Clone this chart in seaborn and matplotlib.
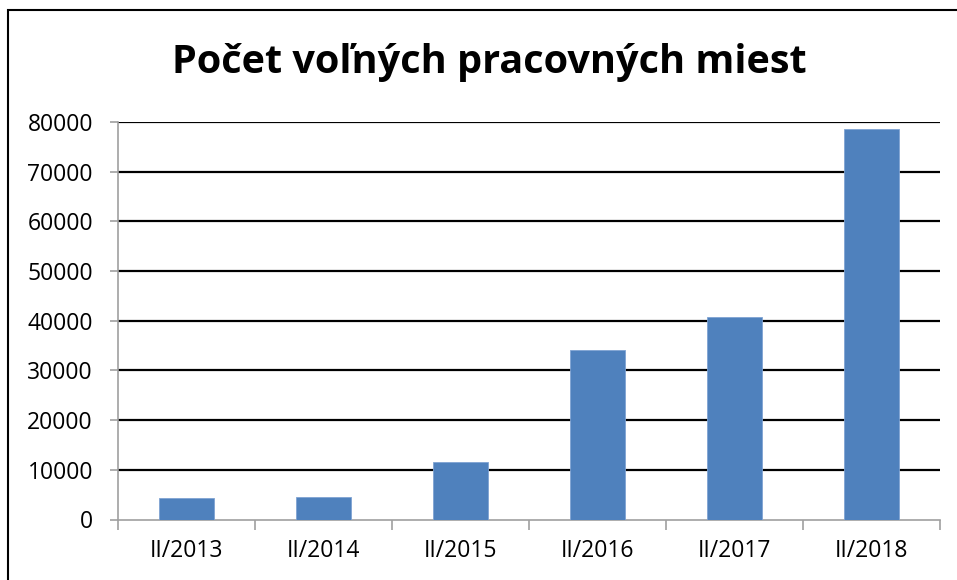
import matplotlib.pyplot as plt
import matplotlib.patches as mpatches
import seaborn as sns
import numpy as np

# data
obdobia = ["II/2013", "II/2014", "II/2015", "II/2016", "II/2017", "II/2018"]
miesta = [4300, 4500, 11600, 34100, 40700, 78500]
y_ticks = [0, 10000, 20000, 30000, 40000, 50000, 60000, 70000, 80000]

sns.set_style("white")
plt.rcParams['font.family'] = ['Open Sans', 'DejaVu Sans']
plt.rcParams['text.color'] = 'black'
plt.rcParams['xtick.labelcolor'] = 'black'
plt.rcParams['ytick.labelcolor'] = 'black'

W, H = 957, 580
fig = plt.figure(figsize=(W / 100, H / 100), dpi=100)
ax = fig.add_axes([118 / W, 1 - 519.5 / H, (940 - 118) / W, (519.5 - 122) / H])

sns.barplot(x=obdobia, y=miesta, color="#4F81BD", saturation=1, width=0.4,
            edgecolor="#7FA3D3", linewidth=0.6, ax=ax, zorder=3)

ax.set_ylim(0, 80000)
ax.set_xlim(-0.5, len(obdobia) - 0.5)
ax.set_yticks(y_ticks)
ax.set_yticklabels([str(t) for t in y_ticks], fontsize=16.5)
ax.tick_params(axis='y', length=6, width=1.2, color='#A0A0A0', pad=12, direction='out', left=True,
               labelcolor='black')
ax.tick_params(axis='x', which='major', length=0, pad=14, labelsize=16.5, labelcolor='black')
ax.set_xticks(np.arange(-0.5, len(obdobia)), minor=True)
ax.tick_params(axis='x', which='minor', length=7, width=1.2, color='#A0A0A0', direction='out', bottom=True)

for t in y_ticks[1:]:
    ax.axhline(t, color='black', linewidth=1.6, zorder=1)

for s in ['top', 'right']:
    ax.spines[s].set_visible(False)
for s in ['left', 'bottom']:
    ax.spines[s].set_color('#A0A0A0')
    ax.spines[s].set_linewidth(1.2)

fig.text(489 / W, 1 - 63 / H, "Počet voľných pracovných miest", ha='center', va='center',
         fontsize=28.5, fontweight='bold', color='black')

# outer chart frame
fig.patches.append(mpatches.Rectangle((8 / W, -0.1), 1.2, 1 - 10 / H + 0.1,
                                      transform=fig.transFigure, fill=False,
                                      edgecolor='black', linewidth=1.5))

fig.savefig("out.png", dpi=100)
